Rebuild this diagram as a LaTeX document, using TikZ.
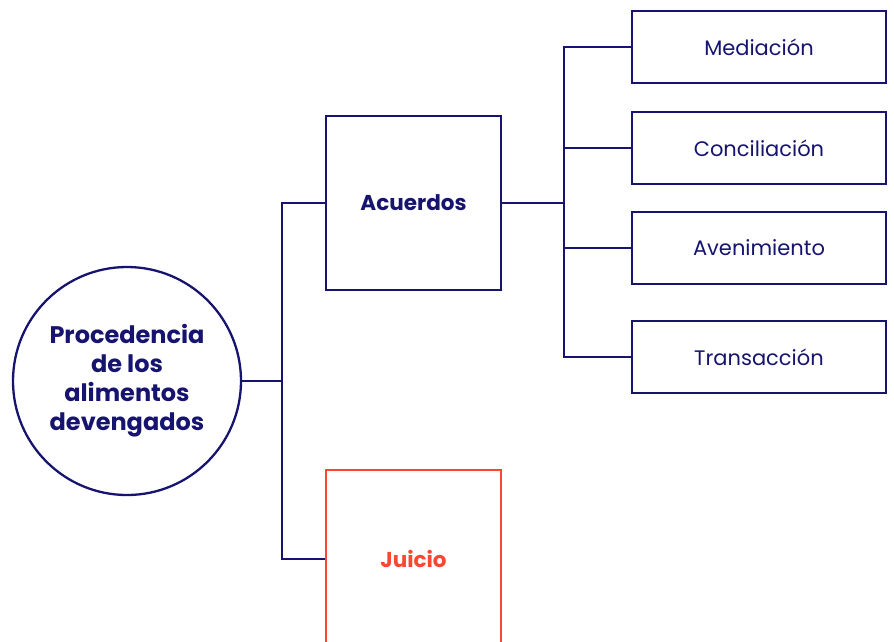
\documentclass[tikz,border=0pt]{standalone}
\usepackage{fontspec}
\setmainfont{Poppins}
\definecolor{navy}{HTML}{16146E}
\definecolor{redc}{HTML}{FF4633}
\begin{document}
\begin{tikzpicture}[x=1pt,y=-1pt,
  line width=2.3pt,
  conn/.style={draw=navy,line width=2.3pt},
  bigbox/.style={draw=navy,rectangle,line width=2.3pt,minimum width=175pt,minimum height=174pt,inner sep=0pt,font=\fontsize{21.5}{26}\selectfont\bfseries,text=navy},
  smallbox/.style={draw=navy,rectangle,line width=2.3pt,minimum width=254pt,minimum height=72pt,inner sep=0pt,font=\fontsize{21}{25}\selectfont,text=navy}]
\useasboundingbox (0,0) rectangle (894,641);
\clip (0,0) rectangle (894,641);
\node[circle,draw=navy,line width=2.3pt,minimum size=228pt,inner sep=0pt,align=center,text=navy,font=\fontsize{24}{29}\selectfont\bfseries] (root) at (127,381) {Procedencia\\de los\\alimentos\\devengados};
\node[bigbox] (acu) at (413.5,203) {Acuerdos};
\node[bigbox,draw=redc,text=redc,minimum height=178pt] (jui) at (413.5,559) {Juicio};
\node[smallbox] (med) at (759,47) {Mediación};
\node[smallbox] (con) at (759,148) {Conciliación};
\node[smallbox] (ave) at (759,248) {Avenimiento};
\node[smallbox] (tra) at (759,357) {Transacción};
\coordinate (j1) at (282,381);
\coordinate (j2) at (564,203);
\draw[conn] (root.east) -- (j1);
\draw[conn] (j1) |- (acu.west);
\draw[conn] (j1) |- (jui.west);
\draw[conn] (acu.east) -- (j2);
\draw[conn] (j2) |- (med.west);
\draw[conn] (j2) |- (con.west);
\draw[conn] (j2) |- (ave.west);
\draw[conn] (j2) |- (tra.west);
\end{tikzpicture}
\end{document}
